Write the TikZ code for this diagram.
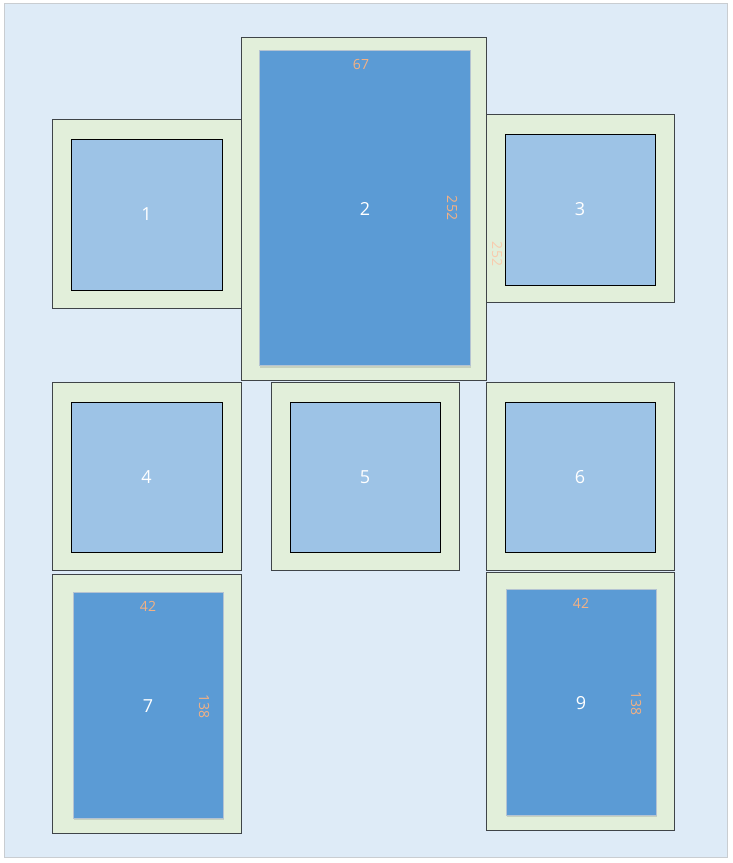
\documentclass[tikz,border=0pt]{standalone}
\usepackage{fontspec}
\setmainfont{Open Sans}
\usetikzlibrary{shadows}
\definecolor{bgblue}{HTML}{DEEBF7}
\definecolor{bgborder}{HTML}{C9CDD1}
\definecolor{framegreen}{HTML}{E2EFDA}
\definecolor{frameborder}{HTML}{3F4448}
\definecolor{lightbox}{HTML}{9DC3E6}
\definecolor{darkbox}{HTML}{5B9BD5}
\definecolor{darkboxborder}{HTML}{B4C3D2}
\definecolor{dimlabel}{HTML}{F4B183}
\definecolor{dimlabelfaint}{HTML}{F8CBAD}
\tikzset{
  framebox/.style={draw=frameborder, fill=framegreen, line width=1pt, inner sep=0pt, outer sep=0pt},
  lightcell/.style={draw=black, fill=lightbox, line width=1pt, inner sep=0pt, outer sep=0pt,
     text=white, font=\fontsize{18}{20}\selectfont},
  darkcell/.style={draw=darkboxborder, fill=darkbox, line width=0.8pt, inner sep=0pt, outer sep=0pt,
     text=white, font=\fontsize{18}{20}\selectfont,
     drop shadow={shadow xshift=0.5pt, shadow yshift=-2pt, opacity=0.12, fill=black}},
  dimtext/.style={text=dimlabel, font=\fontsize{14}{16}\selectfont, inner sep=0pt},
  dimtextfaint/.style={text=dimlabelfaint, font=\fontsize{14}{16}\selectfont, inner sep=0pt},
}
\begin{document}
\begin{tikzpicture}[x=1pt, y=-1pt]
\useasboundingbox (0,0) rectangle (732,863);
\fill[white] (0,0) rectangle (732,863);
\node[draw=bgborder, fill=bgblue, line width=1pt, minimum width=723pt, minimum height=854pt, inner sep=0pt] (bg) at (365.5,430) {};

% frames
\node[framebox, minimum width=189pt, minimum height=189pt] (f1) at (146.5,213.5) {};
\node[framebox, minimum width=245pt, minimum height=343pt] (f2) at (363.5,208.5) {};
\node[framebox, minimum width=188pt, minimum height=188pt] (f3) at (580,208) {};
\node[framebox, minimum width=189pt, minimum height=188pt] (f4) at (146.5,476) {};
\node[framebox, minimum width=188pt, minimum height=188pt] (f5) at (365,476) {};
\node[framebox, minimum width=188pt, minimum height=188pt] (f6) at (580,476) {};
\node[framebox, minimum width=189pt, minimum height=259pt] (f7) at (146.5,703.5) {};
\node[framebox, minimum width=188pt, minimum height=258pt] (f9) at (580,701) {};

% inner cells
\node[lightcell, minimum width=151pt, minimum height=151pt] (c1) at (146.5,214.5) {1};
\node[darkcell, minimum width=211pt, minimum height=315pt] (c2) at (365,208) {};
\node[lightcell, minimum width=150pt, minimum height=151pt] (c3) at (580,209.5) {3};
\node[lightcell, minimum width=151pt, minimum height=150pt] (c4) at (146.5,477) {4};
\node[lightcell, minimum width=150pt, minimum height=150pt] (c5) at (365,477) {5};
\node[lightcell, minimum width=150pt, minimum height=150pt] (c6) at (580,477) {6};
\node[darkcell, minimum width=150pt, minimum height=226pt] (c7) at (148,705) {};
\node[darkcell, minimum width=150pt, minimum height=226pt] (c9) at (581.5,702) {};

% labels in dark cells
\node[text=white, font=\fontsize{18}{20}\selectfont, inner sep=0pt] (l2) at (365,209) {2};
\node[text=white, font=\fontsize{18}{20}\selectfont, inner sep=0pt] (l7) at (148,706) {7};
\node[text=white, font=\fontsize{18}{20}\selectfont, inner sep=0pt] (l9) at (581,703) {9};

% dimension labels
\node[dimtext] (d67) at (361,64) {67};
\node[dimtext, rotate=-90] (d252a) at (452,208) {252};
\node[dimtextfaint, rotate=-90] (d252b) at (497,254) {252};
\node[dimtext] (d42a) at (148,606) {42};
\node[dimtext, rotate=-90] (d138a) at (204,706) {138};
\node[dimtext] (d42b) at (581,603) {42};
\node[dimtext, rotate=-90] (d138b) at (636,703) {138};
\end{tikzpicture}
\end{document}
